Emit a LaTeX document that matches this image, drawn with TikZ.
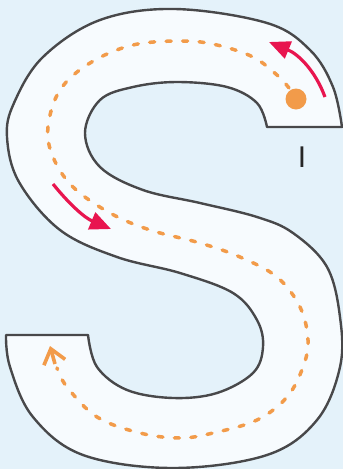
\documentclass[tikz,border=0pt]{standalone}
\usepackage{fontspec}
\setsansfont{Liberation Sans}
\usetikzlibrary{arrows.meta,positioning}
\definecolor{SkyBG}{HTML}{E4F2FA}
\definecolor{TrackFill}{HTML}{F7FBFE}
\definecolor{EdgeGray}{HTML}{48484A}
\definecolor{GuideOrange}{HTML}{F29B4A}
\definecolor{DirRed}{HTML}{E8154F}
\begin{document}
\begin{tikzpicture}[
    x=1pt, y=-1pt,
    track/.style={draw=EdgeGray,fill=TrackFill,line width=2.4pt,line join=round},
    guide/.style={GuideOrange,line width=3.5pt,line cap=round,dash pattern=on 5pt off 11.5pt},
    guidetip/.style={GuideOrange,line width=3.6pt,-{Straight Barb[length=14pt,width=22pt]}},
    dir/.style={DirRed,line width=3.2pt,-{Triangle[length=21pt,width=18pt]}},
    startdot/.style={circle,fill=GuideOrange,inner sep=0pt,minimum size=21pt},
  ]
  % background and size
  \fill[SkyBG] (0,0) rectangle (343,469);
  \useasboundingbox (0,0) rectangle (343,469);
  % letter outline
  \draw[track] (267,127) -- (342,127)
    -- plot[smooth,tension=0.6] coordinates {(342,127) (333,87) (310,50) (267,23) (175,9)
       (100,20) (43,57) (14,103) (7,137) (19,182) (60,230) (117,257) (180,273)
       (233,293) (257,320) (263,347) (253,373) (217,393) (173,398) (127,390)
       (97,367) (88,335)}
    -- (6,335)
    -- plot[smooth,tension=0.6] coordinates {(6,335) (10,367) (33,417) (83,455) (173,468)
       (267,455) (317,420) (340,367) (340,317) (327,267) (293,233) (257,217)
       (200,203) (143,190) (100,167) (85,133) (100,100) (133,87) (177,82)
       (227,87) (257,103) (267,127)}
    -- cycle;
  % start point
  \node[startdot] (start) at (296,99) {};
  % dashed guide line
  \draw[guide]
    plot[smooth,tension=0.6] coordinates {(289,88) (277,75) (253,57) (217,45) (183,41)
       (133,45) (90,63) (60,90) (48,127) (53,157) (73,187) (110,213) (150,230)
       (200,243) (240,257) (277,277) (300,307) (308,340) (303,367) (287,397)
       (257,420) (213,433) (180,438) (140,433) (97,417) (67,387) (57,368)};
  \coordinate (tipbase) at (55,364);
  \coordinate (tipend) at (50,346);
  \draw[guidetip] (tipbase) -- (tipend);
  % direction arrows
  \draw[dir] (325,97) .. controls (315,70) and (298,54) .. (269,42);
  \draw[dir] (53,184) .. controls (70,205) and (85,218) .. (111,229);
  % cursor mark
  \node[font=\sffamily\fontsize{30}{30}\selectfont,text=black!85,inner sep=0pt] (cursor) at (302,157) {I};
\end{tikzpicture}
\end{document}
